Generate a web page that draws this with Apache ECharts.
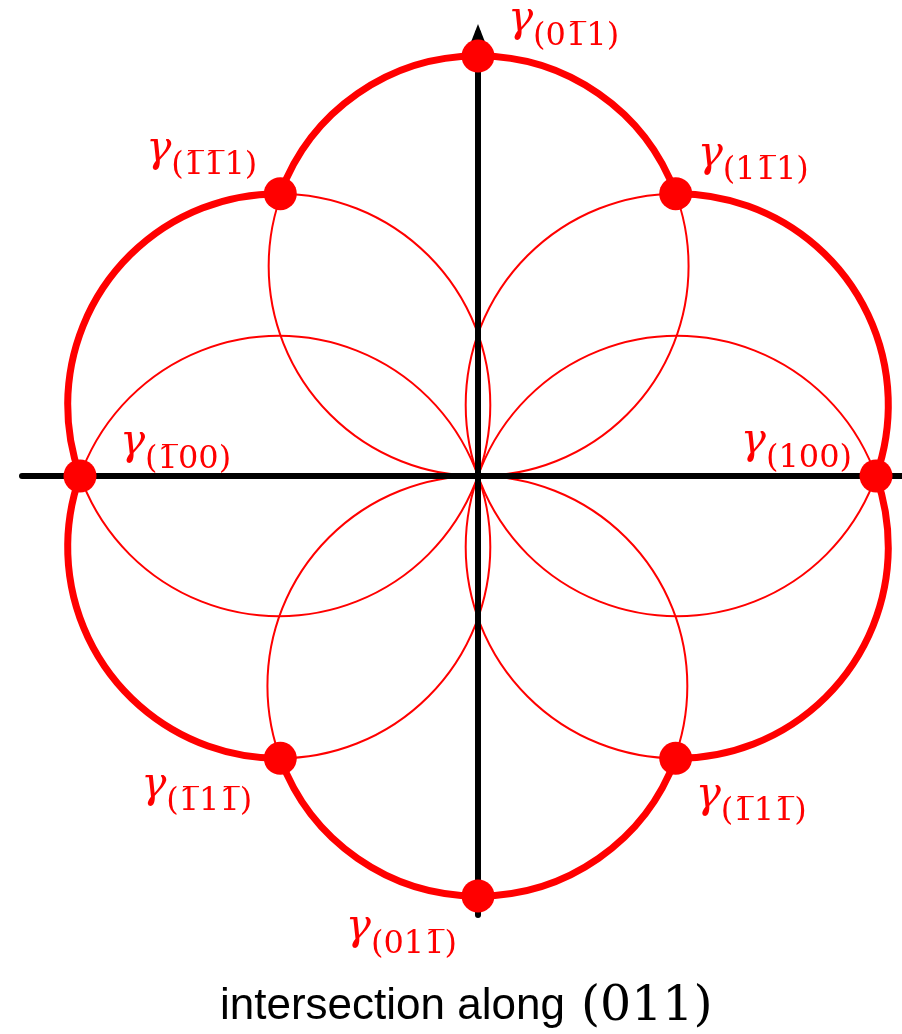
<!DOCTYPE html>
<html>
<head>
<meta charset="utf-8">
<script src="https://cdn.jsdelivr.net/npm/echarts@6/dist/echarts.min.js"></script>
<style>
  html, body { margin: 0; padding: 0; background: #fff; }
  #chart { width: 902px; height: 1034px; }
</style>
</head>
<body>
<div id="chart"></div>
<script>
// Surface energy γ along the (011) zone, one entry per facet normal (counter-clockwise from [100])
const facetLabels = ['(100)', '(11\u03051)', '(01\u03051)', '(1\u03051\u03051)', '(1\u030500)', '(1\u030511\u0305)', '(011\u0305)', '(1\u030511\u0305)'];
const facetAngles = [0, 55, 90, 125, 180, 235, 270, 305];          // degrees
const gammaValues = [1.000, 0.866, 1.055, 0.866, 1.000, 0.866, 1.055, 0.866];
const titleMain = 'intersection along';
const titlePlane = '(011)';

const RED = '#ff0000';

// facet points in the plane
const points = facetAngles.map((a, i) => {
  const t = a * Math.PI / 180;
  return [gammaValues[i] * Math.cos(t), gammaValues[i] * Math.sin(t)];
});

// circle through the origin and two neighbouring facet points -> [cx, cy, R]
function circleThroughOrigin(p, q) {
  const a = p[0] * p[0] + p[1] * p[1];
  const b = q[0] * q[0] + q[1] * q[1];
  const det = p[0] * q[1] - p[1] * q[0];
  const D = (a * q[1] - b * p[1]) / det;
  const E = (p[0] * b - q[0] * a) / det;
  return [D / 2, E / 2, Math.hypot(D, E) / 2];
}

// outer envelope pieces between neighbouring facets
const arcs = points.map((p, i) => {
  const q = points[(i + 1) % points.length];
  const c = circleThroughOrigin(p, q);
  return [c[0], c[1], c[2], p[0], p[1], q[0], q[1]];
});

// full circles (shared circles drawn once)
const circles = [];
arcs.forEach(a => {
  if (!circles.some(c => Math.hypot(c[0] - a[0], c[1] - a[1]) < 0.02)) circles.push([a[0], a[1], a[2]]);
});

// label placement around each dot
const labelLayout = [
  { align: 'right', offset: [-24, -28] },
  { align: 'left',  offset: [22, -33] },
  { align: 'left',  offset: [30, -30] },
  { align: 'right', offset: [-23, -38] },
  { align: 'left',  offset: [40, -27] },
  { align: 'right', offset: [-28, 33] },
  { align: 'right', offset: [-21, 38] },
  { align: 'left',  offset: [20, 43] }
];

const chart = echarts.init(document.getElementById('chart'), null, { renderer: 'canvas' });

const hiddenAxisParts = {
  axisTick: { show: false },
  axisLabel: { show: false },
  splitLine: { show: false }
};

chart.setOption({
  animation: false,
  backgroundColor: '#fff',
  title: {
    text: '{a|' + titleMain + '}{b|' + titlePlane + '}',
    left: 220,
    top: 981,
    padding: 0,
    textStyle: {
      fontWeight: 'normal',
      rich: {
        a: { fontFamily: 'Liberation Sans', fontWeight: 'normal', fontSize: 44, lineHeight: 52, color: '#000' },
        b: { fontFamily: 'DejaVu Serif', fontWeight: 'normal', fontSize: 49, lineHeight: 52, padding: [0, 0, 0, 16], color: '#000' }
      }
    }
  },
  grid: { left: 22, right: 0, top: 33, bottom: 119 },
  xAxis: Object.assign({
    type: 'value', min: -1.1457, max: 1.0653, z: 3,
    axisLine: { onZero: true, lineStyle: { color: '#000', width: 6 } }
  }, hiddenAxisParts),
  yAxis: Object.assign({
    type: 'value', min: -1.103, max: 1.113, z: 3,
    axisLine: {
      onZero: true, symbol: ['none', 'triangle'], symbolSize: [14, 18],
      lineStyle: { color: '#000', width: 6 }
    }
  }, hiddenAxisParts),
  series: [
    {
      type: 'custom',
      z: 2,
      silent: true,
      data: circles,
      renderItem: (params, api) => {
        const c = api.coord([api.value(0), api.value(1)]);
        const r = api.size([api.value(2), 0])[0];
        return {
          type: 'circle',
          shape: { cx: c[0], cy: c[1], r: r },
          style: { fill: 'none', stroke: RED, lineWidth: 2 }
        };
      }
    },
    {
      type: 'custom',
      z: 4,
      silent: true,
      data: arcs,
      renderItem: (params, api) => {
        const c = api.coord([api.value(0), api.value(1)]);
        const r = api.size([api.value(2), 0])[0];
        const p = api.coord([api.value(3), api.value(4)]);
        const q = api.coord([api.value(5), api.value(6)]);
        return {
          type: 'arc',
          shape: {
            cx: c[0], cy: c[1], r: r,
            startAngle: Math.atan2(p[1] - c[1], p[0] - c[0]),
            endAngle: Math.atan2(q[1] - c[1], q[0] - c[0]),
            clockwise: false
          },
          style: { fill: 'none', stroke: RED, lineWidth: 7 }
        };
      }
    },
    {
      type: 'scatter',
      z: 5,
      symbol: 'circle',
      symbolSize: 33,
      itemStyle: { color: RED, opacity: 1 },
      data: points.map((p, i) => ({
        value: p,
        label: {
          show: true,
          position: 'inside',
          verticalAlign: 'middle',
          align: labelLayout[i].align,
          offset: labelLayout[i].offset,
          formatter: '{g|\u03b3}{s|' + facetLabels[i] + '}',
          rich: {
            g: { fontFamily: 'DejaVu Serif', fontStyle: 'italic', fontSize: 42, lineHeight: 53, verticalAlign: 'top', color: RED },
            s: { fontFamily: 'DejaVu Serif', fontSize: 32, lineHeight: 53, verticalAlign: 'bottom', color: RED }
          }
        }
      }))
    }
  ]
});
</script>
</body>
</html>
